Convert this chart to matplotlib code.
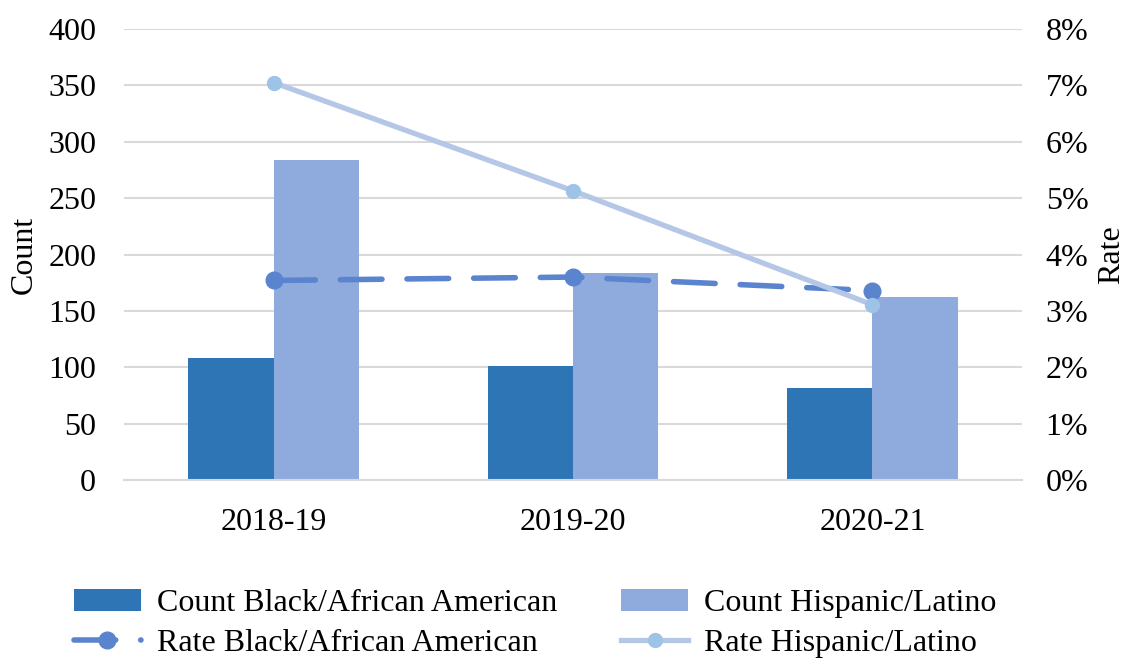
import numpy as np
import matplotlib.pyplot as plt
from matplotlib.ticker import PercentFormatter

plt.rcParams['font.family'] = ['Liberation Serif', 'DejaVu Serif']
plt.rcParams['lines.scale_dashes'] = False

years = ['2018-19', '2019-20', '2020-21']
count_black = [108, 101, 82]
count_hisp = [284, 184, 162]
rate_black = [3.54, 3.60, 3.36]
rate_hisp = [7.05, 5.13, 3.11]

c_black_bar = '#2E75B6'
c_hisp_bar = '#8FAADC'
c_black_line = '#5B84CE'
c_hisp_line = '#B4C7E7'
c_hisp_mark = '#9DC3E6'
grid_col = '#D9D9D9'
fs = 23

fig = plt.figure(figsize=(11.29, 6.59), dpi=100)
ax = fig.add_axes([0.1098, 0.2716, 0.7955, 0.6844])
ax2 = ax.twinx()

x = np.arange(len(years))
w = 0.285
b1 = ax.bar(x - w / 2, count_black, w, color=c_black_bar, label='Count Black/African American', zorder=2)
b2 = ax.bar(x + w / 2, count_hisp, w, color=c_hisp_bar, label='Count Hispanic/Latino', zorder=2)

l1, = ax2.plot(x, rate_black, color=c_black_line, lw=4.0, dashes=(30, 18),
               dash_capstyle='round', marker='o', markersize=12,
               label='Rate Black/African American')
l2, = ax2.plot(x, rate_hisp, color=c_hisp_line, lw=3.8, marker='o', markersize=10,
               markerfacecolor=c_hisp_mark, markeredgecolor=c_hisp_mark,
               label='Rate Hispanic/Latino')

ax.set_xlim(-0.5, 2.5)
ax.set_ylim(0, 400)
ax.set_yticks(np.arange(0, 401, 50))
ax2.set_ylim(0, 8)
ax2.set_yticks(np.arange(0, 9, 1))
ax2.yaxis.set_major_formatter(PercentFormatter(decimals=0))

ax.set_xticks(x)
ax.set_xticklabels(years)
ax.yaxis.grid(True, color=grid_col, lw=1.5, zorder=0)
ax.set_axisbelow(True)

for a in (ax, ax2):
    for s in a.spines.values():
        s.set_visible(False)
    a.tick_params(length=0, labelsize=fs, colors='black')
ax.spines['bottom'].set_visible(True)
ax.spines['bottom'].set_color(grid_col)
ax.spines['bottom'].set_linewidth(1.5)
ax.tick_params(axis='y', pad=20)
ax.tick_params(axis='x', pad=20)
ax2.tick_params(axis='y', pad=17)

ax.set_ylabel('Count', fontsize=fs, labelpad=7)
ax2.set_ylabel('Rate', fontsize=fs, rotation=90, labelpad=6)

# legend fills column by column, so interleave to get count row / rate row
fig.legend(handles=[b1, l1, b2, l2], loc='lower left', ncol=2, bbox_to_anchor=(0.040, -0.042),
           frameon=False, fontsize=fs, handlelength=2.1, handletextpad=0.5,
           columnspacing=2.0, labelspacing=0.33)

fig.savefig('out.png', dpi=100)
